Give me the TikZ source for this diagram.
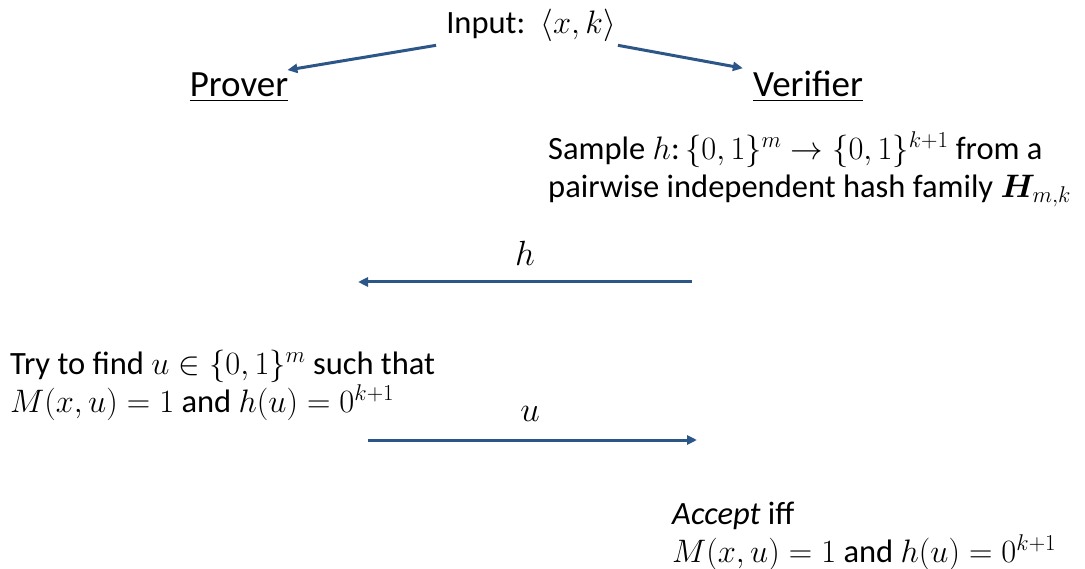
\RequirePackage{fix-cm}
\documentclass[tikz,border=0pt]{standalone}
\usepackage{amsmath}
\usepackage{bm}
\usepackage{fontspec}
\setmainfont{Carlito}
\usetikzlibrary{arrows.meta}
\definecolor{flow}{RGB}{44,86,135}
\begin{document}
\begin{tikzpicture}[x=1pt,y=-1pt,
  txt/.style={inner sep=0pt, font=\fontsize{32.5}{37.5}\selectfont, align=left},
  role/.style={inner sep=0pt, font=\fontsize{37}{42}\selectfont},
  lbl/.style={inner sep=0pt, font=\fontsize{35}{40}\selectfont},
  msg/.style={line width=3pt, draw=flow, -{Triangle[length=10pt,width=9pt]}}]
\useasboundingbox (0,0) rectangle (1085,569);

% parties and common input
\node[txt, anchor=base] (input) at (531,34) {Input:\, $\langle x,k\rangle$};
\node[role, anchor=base] (prover) at (239,97) {\underline{Prover}};
\node[role, anchor=base] (verifier) at (808,97) {\underline{Verifier}};
\draw[msg] ([xshift=-10pt,yshift=-3pt]input.south west) -- ([xshift=-1pt,yshift=3pt]prover.north east);
\draw[msg] ([xshift=2pt,yshift=-3pt]input.south east) -- ([xshift=-10pt,yshift=3pt]verifier.north west);

% verifier samples a hash function
\node[txt, anchor=north west] (sample) at (548,132)
  {Sample $h$:\,$\{0,1\}^m \rightarrow \{0,1\}^{k+1}$ from a\\
   pairwise independent hash family $\bm{H}_{m,k}$};

% first message: h
\coordinate (hstart) at (692,282);
\coordinate (hend) at (358,282);
\draw[msg] (hstart) -- (hend);
\node[lbl, anchor=base] (hlbl) at (525,266) {$h$};

% prover's task
\node[txt, anchor=north west] (task) at (10,350)
  {Try to find $u\in\{0,1\}^m$ such that\\
   $M(x,u)=1$ and $h(u)=0^{k+1}$};

% second message: u
\coordinate (ustart) at (368,440);
\coordinate (uend) at (697,440);
\draw[msg] (ustart) -- (uend);
\node[lbl, anchor=base] (ulbl) at (530,421) {$u$};

% verifier's decision
\node[txt, anchor=north west] (accept) at (672,502)
  {\textit{Accept} iff\\
   $M(x,u)=1$ and $h(u)=0^{k+1}$};
\end{tikzpicture}
\end{document}
